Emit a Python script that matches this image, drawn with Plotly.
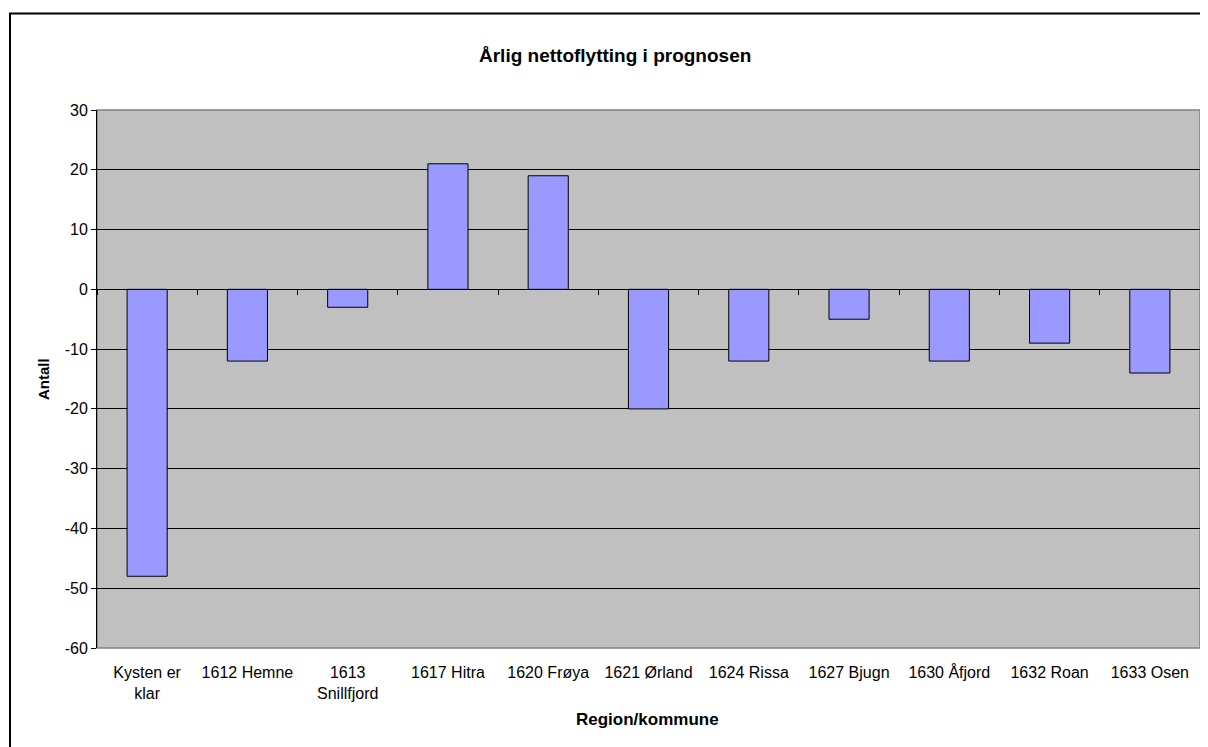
import plotly.graph_objects as go

categories = ["Kysten er<br>klar", "1612 Hemne", "1613<br>Snillfjord", "1617 Hitra", "1620 Frøya",
              "1621 Ørland", "1624 Rissa", "1627 Bjugn", "1630 Åfjord", "1632 Roan", "1633 Osen"]
values = [-48, -12, -3, 21, 19, -20, -12, -5, -12, -9, -14]
y_ticks = [30, 20, 10, 0, -10, -20, -30, -40, -50, -60]
y_ticktext = [str(v) for v in y_ticks]

title_text = "Årlig nettoflytting i prognosen"
x_title = "Region/kommune"
y_title = "Antall"

FONT = "Liberation Sans, Arial, sans-serif"

fig = go.Figure()
fig.add_trace(go.Bar(
    x=categories, y=values,
    marker=dict(color="#9999FF", line=dict(color="#000000", width=1)),
    xaxis="x", yaxis="y", hoverinfo="x+y",
))
# invisible copy to drive the axis drawn along the zero line
fig.add_trace(go.Bar(
    x=categories, y=values,
    marker=dict(color="rgba(0,0,0,0)", line=dict(width=0)),
    xaxis="x2", yaxis="y", hoverinfo="skip", showlegend=False,
))

fig.update_layout(
    width=1200, height=739,
    margin=dict(l=89, r=8, t=102, b=99),
    paper_bgcolor="white",
    plot_bgcolor="#C0C0C0",
    bargap=0.6,
    barmode="overlay",
    showlegend=False,
    font=dict(family=FONT, size=16, color="black"),
    xaxis=dict(
        type="category",
        showgrid=False, zeroline=False, showline=False,
        ticks="", ticklabelstandoff=13,
        tickfont=dict(size=16),
    ),
    xaxis2=dict(
        type="category", overlaying="x", matches="x",
        anchor="free", position=2/3,
        showline=True, linecolor="black", linewidth=1,
        ticks="outside", ticklen=5, tickcolor="black", tickson="boundaries",
        showticklabels=False, showgrid=False, zeroline=False,
    ),
    yaxis=dict(
        range=[-60, 30], tickvals=y_ticks, ticktext=y_ticktext,
        showgrid=True, gridcolor="#000000", gridwidth=1,
        zeroline=False,
        showline=True, linecolor="black", linewidth=1,
        ticks="outside", ticklen=5, tickcolor="black",
        tickfont=dict(size=16),
    ),
    shapes=[
        dict(type="rect", xref="paper", yref="paper", x0=0, x1=1, y0=0, y1=1,
             line=dict(color="#808080", width=1.5), layer="below"),
        dict(type="rect", xref="paper", yref="paper",
             x0=(10 - 97) / 1103, x1=(1212 - 97) / 1103,
             y0=(648 - 752) / 538, y1=(648 - 13.5) / 538,
             line=dict(color="black", width=2)),
    ],
    annotations=[
        dict(text="<b>" + title_text + "</b>", xref="paper", yref="paper",
             x=(615 - 97) / 1103, y=(648 - 55) / 538, showarrow=False,
             font=dict(size=19), xanchor="center", yanchor="middle"),
        dict(text="<b>" + x_title + "</b>", xref="paper", yref="paper",
             x=(647 - 97) / 1103, y=(648 - 719) / 538, showarrow=False,
             font=dict(size=17), xanchor="center", yanchor="middle"),
        dict(text="<b>" + y_title + "</b>", xref="paper", yref="paper",
             x=(43 - 97) / 1103, y=0.5, showarrow=False, textangle=-90,
             font=dict(size=15), xanchor="center", yanchor="middle"),
    ],
)

fig.write_html("out.html")
